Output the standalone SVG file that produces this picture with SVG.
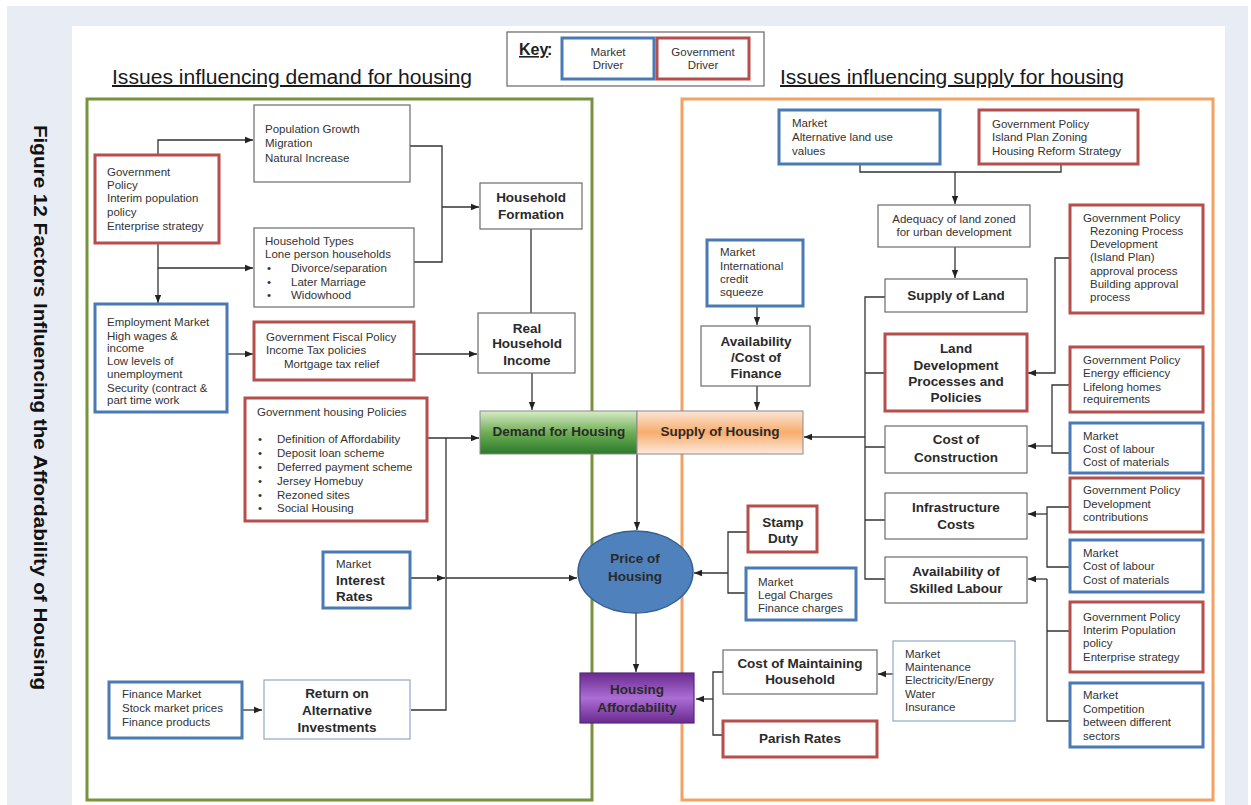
<svg xmlns="http://www.w3.org/2000/svg" width="1251" height="805" viewBox="0 0 1251 805">
<defs>
<style>
.mk{fill:#fff;stroke:#4a7ab4;stroke-width:3}
.gv{fill:#fff;stroke:#b64e4c;stroke-width:3}
.nd{fill:#fff;stroke:#6b6b6b;stroke-width:1.2}
.lb{fill:#fff;stroke:#8fa9c4;stroke-width:1.2}
.t{font-family:"Liberation Sans",Arial,sans-serif;font-size:11.5px;fill:#333}
.b{font-family:"Liberation Sans",Arial,sans-serif;font-size:13.5px;font-weight:bold;fill:#2a2a2a;text-anchor:middle}
.c{text-anchor:middle}
.cn{fill:none;stroke:#333;stroke-width:1.3}
.ar{marker-end:url(#ah)}
.ttl{font-family:"Liberation Sans",Arial,sans-serif;font-size:20px;fill:#1a1a1a;text-decoration:underline}
</style>
<marker id="ah" viewBox="0 0 10 10" refX="10" refY="5" markerWidth="8" markerHeight="8" markerUnits="userSpaceOnUse" orient="auto">
<path d="M0,1 L10,5 L0,9 z" fill="#222"/>
</marker>
<linearGradient id="gDem" x1="0" y1="0" x2="0" y2="1">
<stop offset="0" stop-color="#d8ecc8"/><stop offset="0.5" stop-color="#6fae55"/><stop offset="1" stop-color="#2a7a2a"/>
</linearGradient>
<linearGradient id="gSup" x1="0" y1="0" x2="0" y2="1">
<stop offset="0" stop-color="#fbe6d8"/><stop offset="0.5" stop-color="#f8ad6c"/><stop offset="1" stop-color="#fbe9de"/>
</linearGradient>
<linearGradient id="gAff" x1="0" y1="0" x2="0" y2="1">
<stop offset="0" stop-color="#6a2a90"/><stop offset="0.5" stop-color="#ab6ed4"/><stop offset="1" stop-color="#6a2a90"/>
</linearGradient>
</defs>

<rect x="0" y="0" width="1251" height="805" fill="#ffffff"/>
<rect x="7" y="6" width="1241" height="799" fill="#e8ecf4"/>
<rect x="72" y="26" width="1153" height="779" fill="#ffffff"/>

<text transform="translate(34,125) rotate(90)" font-family="Liberation Sans,Arial,sans-serif" font-size="18" font-weight="bold" fill="#111" textLength="565" lengthAdjust="spacingAndGlyphs">Figure 12 Factors Influencing the Affordability of Housing</text>

<text class="ttl" x="112" y="84" textLength="360" lengthAdjust="spacingAndGlyphs">Issues influencing demand for housing</text>
<text class="ttl" x="780" y="84" textLength="344" lengthAdjust="spacingAndGlyphs">Issues influencing supply for housing</text>

<g id="key">
<rect x="507" y="32" width="257" height="54" fill="#fff" stroke="#666" stroke-width="1.2"/>
<text x="519" y="55" font-family="Liberation Sans,Arial,sans-serif" font-size="16" font-weight="bold" fill="#222" text-decoration="underline">Key</text>
<text x="547" y="55" font-family="Liberation Sans,Arial,sans-serif" font-size="16" font-weight="bold" fill="#222">:</text>
<rect class="mk" x="562" y="38" width="92" height="41"/>
<text class="t c" x="608" y="56" font-size="11">Market</text>
<text class="t c" x="608" y="69" font-size="11">Driver</text>
<rect class="gv" x="657" y="38" width="92" height="41"/>
<text class="t c" x="703" y="56" font-size="11">Government</text>
<text class="t c" x="703" y="69" font-size="11">Driver</text>
</g>

<rect x="87" y="99" width="505" height="701" fill="none" stroke="#77933c" stroke-width="3"/>
<rect x="682" y="99" width="531" height="701" fill="none" stroke="#f4a261" stroke-width="3"/>

<g id="connectors">
<path class="cn ar" d="M158,155 V140 H253"/>
<path class="cn ar" d="M158,243 V268 H253"/>
<path class="cn ar" d="M158,268 V303"/>
<path class="cn" d="M410,146 H442 V262 H414"/>
<path class="cn ar" d="M442,207 H479"/>
<path class="cn" d="M531,229 V313"/>
<path class="cn ar" d="M227,354 H253"/>
<path class="cn ar" d="M415,354 H477"/>
<path class="cn ar" d="M532,373 V410"/>
<path class="cn ar" d="M427,438 H479"/>
<path class="cn" d="M446,438 V710 H411"/>
<path class="cn ar" d="M411,578 H445"/>
<path class="cn ar" d="M446,578 H577"/>
<path class="cn ar" d="M242,710 H262"/>
<path class="cn ar" d="M637,454 V530"/>
<path class="cn ar" d="M636,613 V672"/>
<path class="cn" d="M860,164 V172 H1061 V164"/>
<path class="cn ar" d="M955,172 V204"/>
<path class="cn ar" d="M955,247 V278"/>
<path class="cn ar" d="M1070,258 H1055 V373 H1028"/>
<path class="cn" d="M1070,385 H1052 V453 H1070"/>
<path class="cn ar" d="M1052,446 H1028"/>
<path class="cn" d="M1070,507 H1047 V567 H1070"/>
<path class="cn ar" d="M1047,514 H1028"/>
<path class="cn" d="M1047,579 V721 H1070 M1047,631 H1070"/>
<path class="cn ar" d="M1047,579 H1028"/>
<path class="cn" d="M885,297 H865 V579 H885 M865,373 H885 M865,447 H885 M865,520 H885"/>
<path class="cn ar" d="M865,437 H804"/>
<path class="cn ar" d="M757,306 V325"/>
<path class="cn ar" d="M757,386 V410"/>
<path class="cn" d="M748,532 H728 V593 H746"/>
<path class="cn ar" d="M728,573 H694"/>
<path class="cn ar" d="M893,674 H878"/>
<path class="cn" d="M723,672 H713 V735 H723"/>
<path class="cn ar" d="M713,699 H696"/>
</g>

<g id="population-growth">
<rect class="nd" x="254" y="105" width="156" height="77"/>
<text class="t" x="265" y="133">Population Growth</text>
<text class="t" x="265" y="147">Migration</text>
<text class="t" x="265" y="162">Natural Increase</text>
</g>
<g id="gov-policy-pop">
<rect class="gv" x="95" y="155" width="124" height="88"/>
<text class="t" x="107" y="176">Government</text>
<text class="t" x="107" y="189">Policy</text>
<text class="t" x="107" y="202">Interim population</text>
<text class="t" x="107" y="216">policy</text>
<text class="t" x="107" y="230">Enterprise strategy</text>
</g>
<g id="household-types">
<rect class="nd" x="254" y="228" width="160" height="79"/>
<text class="t" x="265" y="245">Household Types</text>
<text class="t" x="265" y="258">Lone person households</text>
<text class="t" x="267" y="272">•</text><text class="t" x="291" y="272">Divorce/separation</text>
<text class="t" x="267" y="286">•</text><text class="t" x="291" y="286">Later Marriage</text>
<text class="t" x="267" y="299">•</text><text class="t" x="291" y="299">Widowhood</text>
</g>
<g id="household-formation">
<rect class="nd" x="480" y="183" width="102" height="46"/>
<text class="b" x="531" y="202">Household</text>
<text class="b" x="531" y="219">Formation</text>
</g>
<g id="employment-market">
<rect class="mk" x="95" y="304" width="132" height="108"/>
<text class="t" x="107" y="326">Employment Market</text>
<text class="t" x="107" y="340">High wages &amp;</text>
<text class="t" x="107" y="352">income</text>
<text class="t" x="107" y="365">Low levels of</text>
<text class="t" x="107" y="378">unemployment</text>
<text class="t" x="107" y="392">Security (contract &amp;</text>
<text class="t" x="107" y="404">part time work</text>
</g>
<g id="fiscal-policy">
<rect class="gv" x="254" y="322" width="160" height="58"/>
<text class="t" x="266" y="341">Government Fiscal Policy</text>
<text class="t" x="266" y="354">Income Tax policies</text>
<text class="t" x="284" y="368">Mortgage tax relief</text>
</g>
<g id="real-household-income">
<rect class="nd" x="478" y="313" width="97" height="60"/>
<text class="b" x="527" y="333">Real</text>
<text class="b" x="527" y="348">Household</text>
<text class="b" x="527" y="365">Income</text>
</g>
<g id="gov-housing-policies">
<rect class="gv" x="245" y="398" width="182" height="123"/>
<text class="t" x="257" y="416">Government housing Policies</text>
<text class="t" x="258" y="443">•</text><text class="t" x="277" y="443">Definition of Affordability</text>
<text class="t" x="258" y="457">•</text><text class="t" x="277" y="457">Deposit loan scheme</text>
<text class="t" x="258" y="471">•</text><text class="t" x="277" y="471">Deferred payment scheme</text>
<text class="t" x="258" y="485">•</text><text class="t" x="277" y="485">Jersey Homebuy</text>
<text class="t" x="258" y="499">•</text><text class="t" x="277" y="499">Rezoned sites</text>
<text class="t" x="258" y="512">•</text><text class="t" x="277" y="512">Social Housing</text>
</g>
<g id="interest-rates">
<rect class="mk" x="323" y="552" width="87" height="56"/>
<text class="t" x="336" y="568" font-size="11">Market</text>
<text class="b" x="336" y="585" style="text-anchor:start">Interest</text>
<text class="b" x="336" y="601" style="text-anchor:start">Rates</text>
</g>
<g id="finance-market">
<rect class="mk" x="109" y="682" width="133" height="56"/>
<text class="t" x="122" y="698">Finance Market</text>
<text class="t" x="122" y="712">Stock market prices</text>
<text class="t" x="122" y="726">Finance products</text>
</g>
<g id="return-alt-investments">
<rect class="lb" x="264" y="680" width="146" height="59"/>
<text class="b" x="337" y="698">Return on</text>
<text class="b" x="337" y="715">Alternative</text>
<text class="b" x="337" y="732">Investments</text>
</g>

<g id="demand-for-housing">
<rect x="480" y="411" width="157" height="43" fill="url(#gDem)" stroke="#8a8a8a" stroke-width="1"/>
<text class="b" x="559" y="436" font-size="13" fill="#1d2a1d">Demand for Housing</text>
</g>
<g id="supply-of-housing">
<rect x="637" y="411" width="166" height="43" fill="url(#gSup)" stroke="#8a8a8a" stroke-width="1"/>
<text class="b" x="720" y="436" font-size="13">Supply of Housing</text>
</g>
<g id="price-of-housing">
<ellipse cx="635.5" cy="572" rx="57.5" ry="41" fill="#4f81bd" stroke="#37608f" stroke-width="1.5"/>
<text class="b" x="635" y="563" fill="#e3ecf7">Price of</text>
<text class="b" x="635" y="581" fill="#e3ecf7">Housing</text>
</g>
<g id="housing-affordability">
<rect x="580" y="673" width="114" height="50" fill="url(#gAff)" stroke="#55287a" stroke-width="1.2"/>
<text class="b" x="637" y="694" fill="#eadff4">Housing</text>
<text class="b" x="637" y="712" fill="#eadff4">Affordability</text>
</g>

<g id="market-alt-land">
<rect class="mk" x="779" y="110" width="161" height="54"/>
<text class="t" x="792" y="127">Market</text>
<text class="t" x="792" y="141">Alternative land use</text>
<text class="t" x="792" y="155">values</text>
</g>
<g id="gov-island-plan">
<rect class="gv" x="979" y="110" width="159" height="54"/>
<text class="t" x="992" y="128">Government Policy</text>
<text class="t" x="992" y="141">Island Plan Zoning</text>
<text class="t" x="992" y="155">Housing Reform Strategy</text>
</g>
<g id="adequacy-land">
<rect class="nd" x="878" y="205" width="152" height="42"/>
<text class="t c" x="954" y="223" font-size="11">Adequacy of land zoned</text>
<text class="t c" x="954" y="236" font-size="11">for urban development</text>
</g>
<g id="gov-rezoning">
<rect class="gv" x="1070" y="205" width="133" height="108"/>
<text class="t" x="1083" y="222">Government Policy</text>
<text class="t" x="1090" y="235">Rezoning Process</text>
<text class="t" x="1090" y="248">Development</text>
<text class="t" x="1090" y="261">(Island Plan)</text>
<text class="t" x="1090" y="275">approval process</text>
<text class="t" x="1090" y="288">Building approval</text>
<text class="t" x="1090" y="301">process</text>
</g>
<g id="market-credit">
<rect class="mk" x="707" y="240" width="96" height="66"/>
<text class="t" x="720" y="256">Market</text>
<text class="t" x="720" y="270">International</text>
<text class="t" x="720" y="283">credit</text>
<text class="t" x="720" y="296">squeeze</text>
</g>
<g id="availability-finance">
<rect class="nd" x="701" y="326" width="109" height="60"/>
<text class="b" x="756" y="346">Availability</text>
<text class="b" x="756" y="362">/Cost of</text>
<text class="b" x="756" y="378">Finance</text>
</g>
<g id="supply-of-land">
<rect class="nd" x="885" y="279" width="142" height="33"/>
<text class="b" x="956" y="300">Supply of Land</text>
</g>
<g id="land-development">
<rect class="gv" x="885" y="334" width="142" height="77"/>
<text class="b" x="956" y="353">Land</text>
<text class="b" x="956" y="370">Development</text>
<text class="b" x="956" y="386">Processes and</text>
<text class="b" x="956" y="402">Policies</text>
</g>
<g id="gov-energy">
<rect class="gv" x="1070" y="347" width="133" height="65"/>
<text class="t" x="1083" y="364">Government Policy</text>
<text class="t" x="1083" y="377">Energy efficiency</text>
<text class="t" x="1083" y="391">Lifelong homes</text>
<text class="t" x="1083" y="403">requirements</text>
</g>
<g id="cost-construction">
<rect class="nd" x="885" y="426" width="142" height="47"/>
<text class="b" x="956" y="444">Cost of</text>
<text class="b" x="956" y="462">Construction</text>
</g>
<g id="market-labour-1">
<rect class="mk" x="1070" y="423" width="133" height="50"/>
<text class="t" x="1083" y="440">Market</text>
<text class="t" x="1083" y="453">Cost of labour</text>
<text class="t" x="1083" y="466">Cost of materials</text>
</g>
<g id="infrastructure-costs">
<rect class="nd" x="885" y="493" width="142" height="46"/>
<text class="b" x="956" y="512">Infrastructure</text>
<text class="b" x="956" y="529">Costs</text>
</g>
<g id="gov-dev-contributions">
<rect class="gv" x="1070" y="478" width="133" height="54"/>
<text class="t" x="1083" y="494">Government Policy</text>
<text class="t" x="1083" y="508">Development</text>
<text class="t" x="1083" y="521">contributions</text>
</g>
<g id="market-labour-2">
<rect class="mk" x="1070" y="540" width="133" height="52"/>
<text class="t" x="1083" y="557">Market</text>
<text class="t" x="1083" y="570">Cost of labour</text>
<text class="t" x="1083" y="584">Cost of materials</text>
</g>
<g id="skilled-labour">
<rect class="nd" x="885" y="557" width="142" height="46"/>
<text class="b" x="956" y="576">Availability of</text>
<text class="b" x="956" y="593">Skilled Labour</text>
</g>
<g id="gov-interim-pop">
<rect class="gv" x="1070" y="602" width="133" height="70"/>
<text class="t" x="1083" y="621">Government Policy</text>
<text class="t" x="1083" y="634">Interim Population</text>
<text class="t" x="1083" y="647">policy</text>
<text class="t" x="1083" y="661">Enterprise strategy</text>
</g>
<g id="market-competition">
<rect class="mk" x="1070" y="683" width="133" height="64"/>
<text class="t" x="1083" y="699">Market</text>
<text class="t" x="1083" y="713">Competition</text>
<text class="t" x="1083" y="726">between different</text>
<text class="t" x="1083" y="740">sectors</text>
</g>
<g id="stamp-duty">
<rect class="gv" x="748" y="506" width="69" height="46"/>
<text class="b" x="783" y="527">Stamp</text>
<text class="b" x="783" y="543">Duty</text>
</g>
<g id="market-legal">
<rect class="mk" x="746" y="568" width="110" height="52"/>
<text class="t" x="758" y="586">Market</text>
<text class="t" x="758" y="599">Legal Charges</text>
<text class="t" x="758" y="612">Finance charges</text>
</g>
<g id="cost-maintaining">
<rect class="nd" x="723" y="650" width="154" height="44"/>
<text class="b" x="800" y="668">Cost of Maintaining</text>
<text class="b" x="800" y="684">Household</text>
</g>
<g id="market-maintenance">
<rect class="lb" x="893" y="641" width="122" height="80"/>
<text class="t" x="905" y="658">Market</text>
<text class="t" x="905" y="671">Maintenance</text>
<text class="t" x="905" y="684">Electricity/Energy</text>
<text class="t" x="905" y="698">Water</text>
<text class="t" x="905" y="711">Insurance</text>
</g>
<g id="parish-rates">
<rect class="gv" x="723" y="721" width="154" height="36"/>
<text class="b" x="800" y="743">Parish Rates</text>
</g>
</svg>
